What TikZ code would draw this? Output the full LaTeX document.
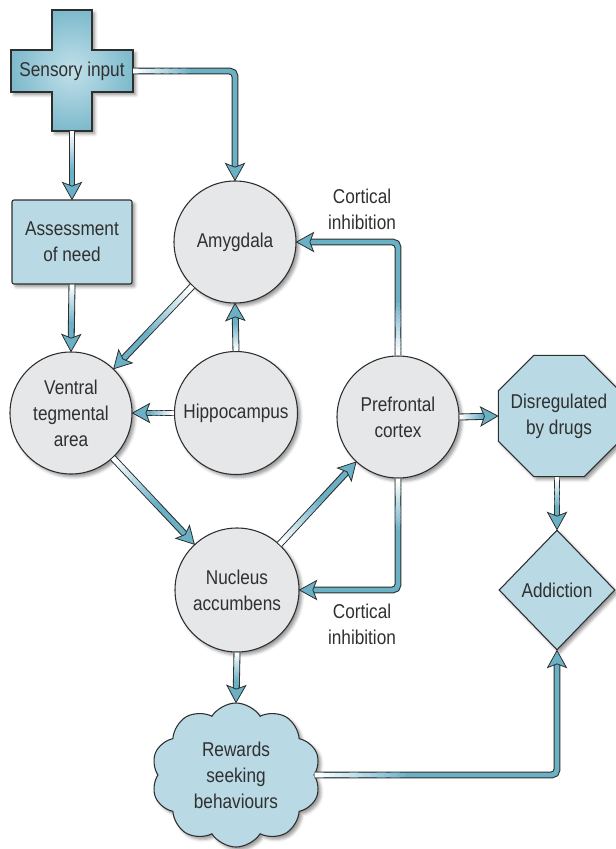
\documentclass[tikz,border=0pt]{standalone}
\usepackage{fontspec}
\setmainfont{Liberation Sans}[FakeStretch=0.86]
\usetikzlibrary{calc,shapes.geometric,shapes.symbols,shadows.blur}

\definecolor{edgegray}{HTML}{2E2E2E}
\definecolor{txtgray}{HTML}{303030}
\definecolor{discgray}{HTML}{E6E7E8}
\definecolor{paleblue}{HTML}{B9D9E4}
\definecolor{flowblue}{HTML}{6BB1C6}
\definecolor{crossin}{HTML}{C2E0EA}
\definecolor{crossout}{HTML}{7DBACC}

\tikzset{
  softshadow/.style={blur shadow={shadow xshift=2.2pt, shadow yshift=-2.2pt,
      shadow blur radius=2.2pt, shadow opacity=40}},
  base/.style={draw=edgegray, line width=0.8pt, text=txtgray, align=center,
      inner sep=0pt, font=\fontsize{15}{19.5}\selectfont, softshadow},
  disc/.style={base, circle, fill=discgray, minimum size=91.5pt},
  box/.style={base, rectangle, rounded corners=1.5pt, fill=paleblue,
      minimum width=90pt, minimum height=63pt},
  octa/.style={base, regular polygon, regular polygon sides=8, fill=paleblue,
      inner sep=-6pt, minimum size=98.5pt},
  gem/.style={base, diamond, fill=paleblue, minimum width=87pt, minimum height=90pt},
  puff/.style={base, cloud, cloud puffs=10, cloud puff arc=115, aspect=1.17,
      fill=paleblue, minimum width=127pt, minimum height=108pt},
  note/.style={text=txtgray, align=center, inner sep=0pt,
      font=\fontsize{15}{19.5}\selectfont},
  shaftout/.style={draw=edgegray, line width=5.2pt, rounded corners=4pt},
  shaftin/.style={draw=flowblue, line width=3.6pt, rounded corners=4pt},
  tiphead/.style={draw=edgegray, fill=flowblue, line width=0.6pt, line join=miter},
}

% White-to-blue fade laid over the start of a shaft, from #1 to #2
\newcommand\fadeshaft[2]{%
  \foreach \i in {0,...,13}{%
    \pgfmathtruncatemacro\fapct{\i*100/13}%
    \draw[draw=flowblue!\fapct!white, line width=3.6pt]
      ($(#1)!\i/14!(#2)$) -- ($(#1)!{(\i+1.3)/14}!(#2)$);
  }}

% Arrow: #1 start, #2 path through bends, #3 point before the tip,
% #4 tip, #5 where the fade at the start ends
\newcommand\flowarrow[5]{%
  \coordinate (fa-end) at ($(#4)!9.5pt!(#3)$);
  \coordinate (fa-fade) at (#5);
  \draw[shaftout] (#1) #2 -- (fa-end);
  \draw[shaftin] (#1) #2 -- (fa-end);
  \fadeshaft{#1}{fa-fade}
  \path[tiphead] let \p1=($(#3)-(#4)$), \n1={atan2(\y1,\x1)} in
    (#4) -- +(\n1+29:14.6pt) -- +(\n1:10pt) -- +(\n1-29:14.6pt) -- cycle;
}

\begin{document}
\begin{tikzpicture}[x=0.75pt, y=-0.75pt]
\useasboundingbox (0,0) rectangle (615,849);

% cross-shaped input block
\shadedraw[draw=edgegray, line width=0.8pt, inner color=crossin, outer color=crossout, softshadow]
  (52,10) -- (92,10) -- (92,50) -- (133,50) -- (133,92) -- (92,92) -- (92,131)
  -- (52,131) -- (52,92) -- (11,92) -- (11,50) -- (52,50) -- cycle;
\node[note] (sens) at (72,71) {Sensory input};
\coordinate (sensR) at (133,71);
\coordinate (sensB) at (72,131);

% nodes
\node[box] (need) at (72,242) {Assessment\\of need};
\node[disc] (amyg) at (235,242) {Amygdala};
\node[disc] (vta) at (71,413) {Ventral\\tegmental\\area};
\node[disc, minimum size=92.25pt] (hip) at (236,413) {Hippocampus};
\node[disc] (pfc) at (398,417) {Prefrontal\\cortex};
\node[disc, minimum size=93pt] (nacc) at (237,590) {Nucleus\\accumbens};
\node[octa] (dis) at (559,416) {Disregulated\\by drugs};
\node[gem] (add) at (557,590) {Addiction};
\node[puff] (rew) at (236,775) {Rewards\\seeking\\behaviours};
\node[note] (ciA) at (362,209) {Cortical\\inhibition};
\node[note] (ciB) at (362,624) {Cortical\\inhibition};

% bends
\coordinate (k1) at (amyg.north |- sensR);
\coordinate (k2) at (pfc.north |- amyg.east);
\coordinate (k3) at (pfc.south |- nacc.east);
\coordinate (k4) at (add.south |- rew.east);
\coordinate (disB) at (add.north |- dis.south);

% connectors
\flowarrow{sensR}{-- (k1)}{k1}{amyg.north}{$(sensR)!0.6!(k1)$}
\flowarrow{sensB}{}{sensB}{need.north}{$(sensB)!0.6!(need.north)$}
\flowarrow{need.south}{}{need.south}{vta.north}{$(need.south)!0.6!(vta.north)$}
\flowarrow{amyg.226}{}{amyg.226}{vta.46}{$(amyg.226)!0.6!(vta.46)$}
\flowarrow{hip.north}{}{hip.north}{amyg.south}{$(hip.north)!0.6!(amyg.south)$}
\flowarrow{hip.west}{}{hip.west}{vta.east}{$(hip.west)!0.6!(vta.east)$}
\flowarrow{vta.313}{}{vta.313}{nacc.133}{$(vta.313)!0.55!(nacc.133)$}
\flowarrow{nacc.47}{}{nacc.47}{pfc.227}{$(nacc.47)!0.55!(pfc.227)$}
\flowarrow{pfc.north}{-- (k2)}{k2}{amyg.east}{$(pfc.north)!0.5!(k2)$}
\flowarrow{pfc.south}{-- (k3)}{k3}{nacc.east}{$(pfc.south)!0.5!(k3)$}
\flowarrow{pfc.east}{}{pfc.east}{dis.west}{$(pfc.east)!0.6!(dis.west)$}
\flowarrow{disB}{}{disB}{add.north}{$(disB)!0.6!(add.north)$}
\flowarrow{nacc.south}{}{nacc.south}{rew.north}{$(nacc.south)!0.6!(rew.north)$}
\flowarrow{rew.east}{-- (k4)}{k4}{add.south}{$(rew.east)!0.4!(k4)$}
\end{tikzpicture}
\end{document}
